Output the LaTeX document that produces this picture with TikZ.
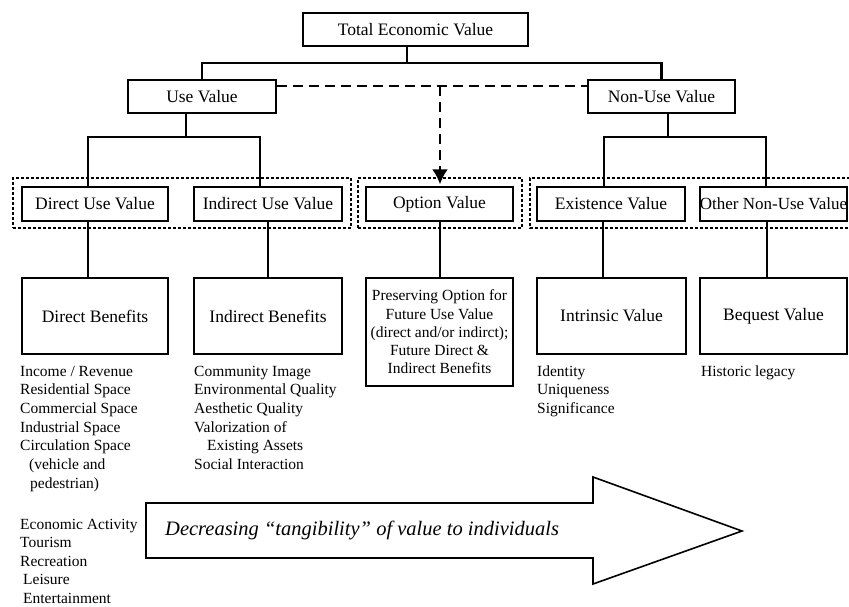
\documentclass[tikz,border=0pt]{standalone}
\usepackage{fontspec}
\setmainfont{Liberation Serif}
\usetikzlibrary{arrows.meta}
\begin{document}
\begin{tikzpicture}[x=1pt,y=-1pt,
  box/.style={draw, line width=1.4pt, inner sep=0pt, fill=white, font=\fontsize{17.5}{20}\selectfont},
  conn/.style={line width=2.2pt},
  dashconn/.style={line width=2.4pt, dash pattern=on 10pt off 6pt},
  grpbox/.style={draw, line width=2.8pt, dash pattern=on 2.6pt off 2.4pt, inner sep=0pt},
  item/.style={anchor=base west, inner sep=0pt, font=\fontsize{15.5}{18.7}\selectfont},
  bigarrow/.style={line width=1.6pt, line join=miter},
]
\useasboundingbox (0,0) rectangle (849,606);

% dotted groups
\node[grpbox, minimum width=338, minimum height=50] (g1) at (182,203) {};
\node[grpbox, minimum width=164, minimum height=50] (g2) at (440,203) {};
\draw[line width=2.8pt, dash pattern=on 2.6pt off 2.4pt] (860,178) -- (530,178) -- (530,228) -- (860,228);

% boxes
\node[box, minimum width=225, minimum height=33] (tev) at (415.5,29.5) {Total Economic Value};
\node[box, minimum width=148, minimum height=33] (use) at (202,96.5) {Use Value};
\node[box, minimum width=147, minimum height=33] (nonuse) at (661.5,96.5) {Non-Use Value};

\node[box, minimum width=146, minimum height=34] (duv) at (95,204) {Direct Use Value};
\node[box, minimum width=148, minimum height=34] (iuv) at (268,204) {Indirect Use Value};
\node[box, minimum width=147, minimum height=34] (ov) at (439.5,204) {Option Value};
\node[box, minimum width=148, minimum height=34] (ev) at (611,204) {Existence Value};
\node[box, minimum width=147, minimum height=34, font=\fontsize{17}{20}\selectfont] (onuv) at (773.5,204) {Other Non-Use Value};

\node[box, minimum width=146, minimum height=76] (db) at (95,316) {Direct Benefits};
\node[box, minimum width=148, minimum height=76] (ib) at (268,316) {Indirect Benefits};
\node[box, minimum width=147, minimum height=108, align=center,
      font=\fontsize{15.5}{18.3}\selectfont] (ob) at (439.5,332)
      {Preserving Option for\\Future Use Value\\(direct and/or indirct);\\Future Direct \&\\Indirect Benefits};
\node[box, minimum width=149, minimum height=76] (intr) at (611.5,316) {Intrinsic Value};
\node[box, minimum width=147, minimum height=76] (beq) at (773.5,316) {Bequest Value};

% coordinates for connectors
\coordinate (tj) at (407,63);
\coordinate (uj) at (186,137);
\coordinate (uL) at (88,137);
\coordinate (uR) at (260,137);
\coordinate (nj) at (668,137);
\coordinate (nL) at (604,137);
\coordinate (nR) at (766,137);
\coordinate (x1) at (88,0);
\coordinate (x2) at (268,0);
\coordinate (x3) at (440,0);
\coordinate (x4) at (603,0);
\coordinate (x5) at (767,0);
\coordinate (dj) at (440,86);

% solid connectors
\draw[conn] (tev.south -| tj) -- (tj);
\draw[conn] (use.north) |- (tj) -| (nonuse.north);
\draw[conn] (use.south -| uj) -- (uj);
\draw[conn] (duv.north -| uL) -- (uL) -- (uR) -- (iuv.north -| uR);
\draw[conn] (nonuse.south -| nj) -- (nj);
\draw[conn] (ev.north -| nL) -- (nL) -- (nR) -- (onuv.north -| nR);
\draw[conn] (duv.south -| x1) -- (db.north -| x1);
\draw[conn] (iuv.south -| x2) -- (ib.north -| x2);
\draw[conn] (ov.south -| x3) -- (ob.north -| x3);
\draw[conn] (ev.south -| x4) -- (intr.north -| x4);
\draw[conn] (onuv.south -| x5) -- (beq.north -| x5);

% dashed connectors
\draw[dashconn] (use.east |- dj) -- (nonuse.west |- dj);
\draw[dashconn, -{Latex[length=15pt,width=16pt]}, shorten >=2pt] (dj) -- (ov.north -| dj);

% lists
\foreach \t [count=\i from 0] in {Income / Revenue, Residential Space, Commercial Space, Industrial Space, Circulation Space, \hspace{9pt}(vehicle and, \hspace{10pt}pedestrian)}
  \node[item] (da\i) at (20,376+18.7*\i) {\t};
\foreach \t [count=\i from 0] in {Economic Activity, Tourism, Recreation, \hspace{3pt}Leisure, \hspace{3pt}Entertainment}
  \node[item] (db\i) at (20,529+18.5*\i) {\t};
\foreach \t [count=\i from 0] in {Community Image, Environmental Quality, Aesthetic Quality, Valorization of, \hspace{13pt}Existing Assets, Social Interaction}
  \node[item] (ia\i) at (194,376+18.7*\i) {\t};
\foreach \t [count=\i from 0] in {Identity, Uniqueness, Significance}
  \node[item] (ea\i) at (537,376+18.7*\i) {\t};
\node[item] (bq0) at (701,376) {Historic legacy};

% big arrow
\draw[bigarrow] (146,503) -- (593,503) -- (593,477) -- (742,531) -- (593,584) -- (593,558) -- (146,558) -- cycle;
\node[anchor=west, inner sep=0pt, font=\itshape\fontsize{20.5}{24}\selectfont] (arrtxt) at (165,530)
  {Decreasing “tangibility” of value to individuals};
\end{tikzpicture}
\end{document}
